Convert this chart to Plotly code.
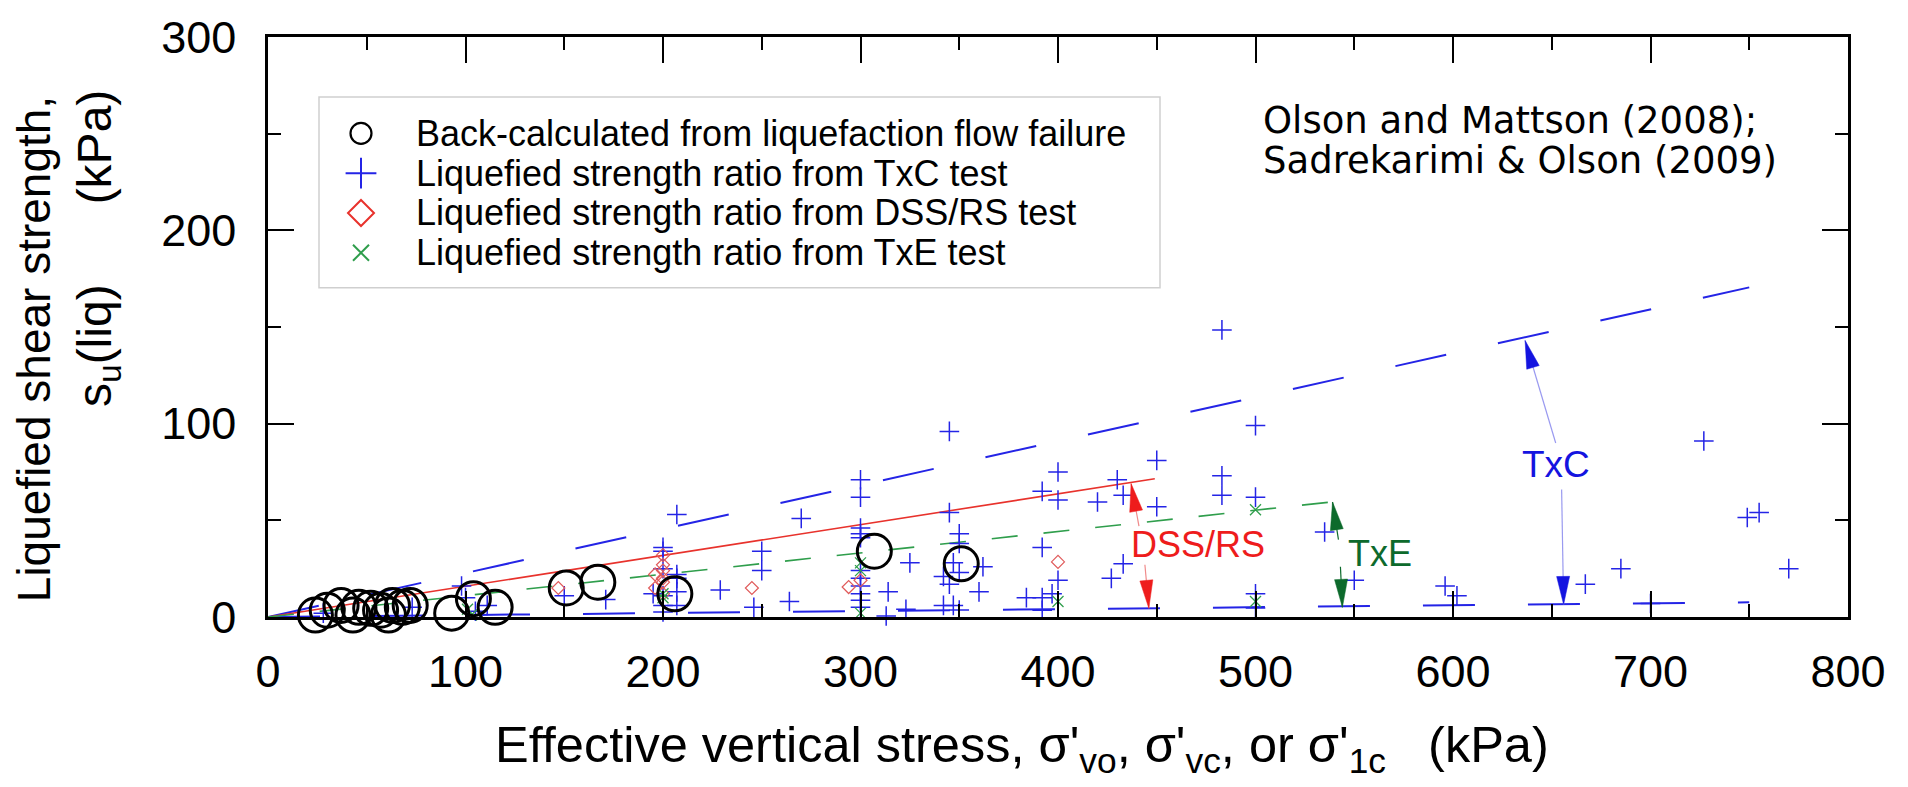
import math
import plotly.graph_objects as go

# ---------------- data ----------------
# Back-calculated from flow failures (sigma'vo, su(liq))
CIRC_X = [24, 30, 37, 43, 46, 52, 57, 61, 63, 68, 72, 93, 104, 115, 151, 167, 206, 307, 351]
CIRC_Y = [1, 3.5, 6, 1, 5, 4.5, 3.5, 1, 6, 5, 6, 2, 9.5, 5, 15, 18, 12, 34, 27.5]

# TxC tests
TXC_X = [28, 73, 98, 100, 105, 111, 150, 171, 195, 200, 200, 200, 200, 200, 200,
         207, 207, 207, 207, 207, 229, 246, 250, 250, 264, 270, 300, 300, 300, 300,
         300, 300, 300, 300, 300, 300, 300, 314, 313, 323, 325, 342, 342, 345, 345,
         345, 347, 347, 350, 350, 350, 350, 360, 362, 384, 392, 392, 392, 392, 397,
         400, 400, 400, 420, 427, 430, 433, 433, 450, 450, 483, 483, 483, 500, 500,
         500, 500, 535, 550, 596, 602, 667, 685, 700, 727, 749, 755, 770]
TXC_Y = [2, 5, 16, 10, 3, 6, 11, 9, 12, 36, 34, 25, 11, 6, 2.6,
         53, 22, 20, 13, 6, 14, 5, 34, 24, 8, 51, 71, 62, 46, 43,
         41, 24, 20, 16, 12, 8.6, 5, 13, 0.5, 4, 28, 21, 6, 96, 54,
         17, 28, 6, 43, 38, 23, 3.6, 13, 26, 10, 65, 36, 10, 3.5, 12,
         75, 60.5, 19, 59.5, 20, 71, 63, 27.5, 81, 57, 148.5, 73, 63, 99, 62,
         12, 4.6, 44, 19, 16, 11, 17, 25, 7, 91, 51.5, 54, 25]

# DSS / RS tests
DSS_X = [147, 196, 196, 200, 200, 200, 200, 200, 200, 245, 294, 300, 400]
DSS_Y = [15, 22, 15, 32, 27, 24, 20, 18, 12, 15, 15.5, 19, 28.5]

# TxE tests
TXE_X = [101, 103, 200, 200, 300, 300, 300, 400, 500, 500]
TXE_Y = [4, 1, 12, 10, 28, 24, 2, 8, 55.5, 8]

# bounding relationships (end points)
TXC_UP_X = [0, 750]
TXC_UP_Y = [0, 170.5]
TXC_LO_X = [0, 750]
TXC_LO_Y = [0, 7.6]
DSS_X_LINE = [0, 449]
DSS_Y_LINE = [0, 71.5]
TXE_X_LINE = [0, 543]
TXE_Y_LINE = [0, 60]

X_TICKS = [0, 100, 200, 300, 400, 500, 600, 700, 800]
Y_TICKS = [0, 100, 200, 300]

LEGEND_LABELS = [
    "Back-calculated from liquefaction flow failure",
    "Liquefied strength ratio from TxC test",
    "Liquefied strength ratio from DSS/RS test",
    "Liquefied strength ratio from TxE test",
]

ARIAL = "Liberation Sans, Arial, sans-serif"
BLUE = "#2424e6"
RED = "#e8322c"
GREEN = "#2f9e4c"
DGREEN = "#0d6a2c"
LBL_RED = "#ee1c1c"
LBL_BLUE = "#1414e0"

# plot geometry (px)
FIG_W, FIG_H = 1908, 787
M_L, M_R, M_T, M_B = 268, 60, 27, 170
X_RANGE = [0, 800]
Y_RANGE = [0, 300]
PW = FIG_W - M_L - M_R
PH = FIG_H - M_T - M_B
PX_X = PW / (X_RANGE[1] - X_RANGE[0])
PX_Y = PH / (Y_RANGE[1] - Y_RANGE[0])


def px_to_paper_x(px):
    return (px - M_L) / PW


def px_to_paper_y(py):
    return (FIG_H - M_B - py) / PH


fig = go.Figure()

# lines
fig.add_trace(go.Scatter(x=TXC_UP_X, y=TXC_UP_Y, mode="lines",
                         line=dict(color=BLUE, width=2, dash="52px,53px"),
                         showlegend=False, hoverinfo="skip"))
fig.add_trace(go.Scatter(x=TXC_LO_X, y=TXC_LO_Y, mode="lines",
                         line=dict(color=BLUE, width=2, dash="52px,53px"),
                         showlegend=False, hoverinfo="skip"))
fig.add_trace(go.Scatter(x=DSS_X_LINE, y=DSS_Y_LINE, mode="lines",
                         line=dict(color=RED, width=1.6),
                         showlegend=False, hoverinfo="skip"))
fig.add_trace(go.Scatter(x=TXE_X_LINE, y=TXE_Y_LINE, mode="lines",
                         line=dict(color=GREEN, width=1.6, dash="26px,26px"),
                         showlegend=False, hoverinfo="skip"))

# points
fig.add_trace(go.Scatter(x=TXC_X, y=TXC_Y, mode="markers", cliponaxis=False,
                         marker=dict(symbol="cross-thin-open", size=14, color=BLUE,
                                     line=dict(color=BLUE, width=1.5)),
                         showlegend=False))
fig.add_trace(go.Scatter(x=DSS_X, y=DSS_Y, mode="markers", cliponaxis=False,
                         marker=dict(symbol="diamond-open", size=10, color="#e05a5a",
                                     line=dict(color="#e05a5a", width=1.2)),
                         showlegend=False))
fig.add_trace(go.Scatter(x=TXE_X, y=TXE_Y, mode="markers", cliponaxis=False,
                         marker=dict(symbol="x-thin-open", size=11, color=GREEN,
                                     line=dict(color=GREEN, width=1.3)),
                         showlegend=False))
fig.add_trace(go.Scatter(x=CIRC_X, y=CIRC_Y, mode="markers", cliponaxis=False,
                         marker=dict(symbol="circle-open", size=34, color="black",
                                     line=dict(color="black", width=3)),
                         showlegend=False))

# ----- hand-built legend (box, symbols on an overlay axis, texts) -----
LEG_BOX = (319, 88, 1160, 282)          # left, top, right, bottom (px)
LEG_ROW_Y = [125, 165.5, 206, 246.5]    # row centres (px)
LEG_SYM_X = 361
LEG_TXT_X = 414
leg_syms = [("circle-open", "black", 21, 2.2), ("cross-thin-open", BLUE, 22, 2),
            ("diamond-open", RED, 20, 2), ("x-thin-open", GREEN, 16, 2)]
for (sym, col, sz, lw), ry in zip(leg_syms, LEG_ROW_Y):
    fig.add_trace(go.Scatter(x=[px_to_paper_x(LEG_SYM_X)], y=[px_to_paper_y(ry)],
                             xaxis="x2", yaxis="y2", mode="markers",
                             showlegend=False, hoverinfo="skip", cliponaxis=False,
                             marker=dict(symbol=sym, size=sz, color=col,
                                         line=dict(color=col, width=lw))))

axis_common = dict(showgrid=False, zeroline=False, showline=True, linecolor="black",
                   linewidth=2.5, mirror="ticks", ticks="inside", ticklen=26,
                   tickwidth=2, tickcolor="black",
                   tickfont=dict(family=ARIAL, size=45, color="black"))
fig.update_xaxes(range=X_RANGE, tickvals=X_TICKS, ticklabelstandoff=13,
                 minor=dict(dtick=50, ticks="inside", ticklen=13, tickwidth=2,
                            tickcolor="black"),
                 **axis_common)
fig.update_yaxes(range=Y_RANGE, tickvals=Y_TICKS, ticklabelstandoff=20,
                 minor=dict(dtick=50, ticks="inside", ticklen=13, tickwidth=2,
                            tickcolor="black"),
                 **axis_common)

ann = []
for txt, ry in zip(LEGEND_LABELS, LEG_ROW_Y):
    ann.append(dict(xref="paper", yref="paper", x=px_to_paper_x(LEG_TXT_X),
                    y=px_to_paper_y(ry), xanchor="left", yanchor="middle",
                    showarrow=False, text=txt,
                    font=dict(family=ARIAL, size=36, color="black")))
# axis titles
ann.append(dict(xref="paper", yref="paper", x=0.1424, y=-0.225, xanchor="left",
                yanchor="middle", showarrow=False,
                text="Effective vertical stress, σ'<sub>vo</sub>, σ'<sub>vc</sub>, or σ'<sub>1c</sub>   (kPa)",
                font=dict(family=ARIAL, size=50.5, color="black")))
ann.append(dict(xref="paper", yref="paper", x=-0.148, y=0.462, xanchor="center",
                yanchor="middle", showarrow=False, textangle=-90,
                text="Liquefied shear strength,",
                font=dict(family=ARIAL, size=46, color="black")))
ann.append(dict(xref="paper", yref="paper", x=-0.108, y=0.635, xanchor="center",
                yanchor="middle", showarrow=False, textangle=-90,
                text="s<sub>u</sub>(liq)      (kPa)",
                font=dict(family=ARIAL, size=48, color="black")))
# reference text (two lines)
REF_FONT = dict(family="DejaVu Sans, Verdana, sans-serif", size=37, color="black")
ann.append(dict(x=503, y=256.7, xanchor="left", yanchor="middle", showarrow=False,
                text="Olson and Mattson (2008);", font=REF_FONT))
ann.append(dict(x=503, y=236.3, xanchor="left", yanchor="middle", showarrow=False,
                text="Sadrekarimi & Olson (2009)", font=REF_FONT))
# labels
ann.append(dict(x=471, y=37.6, showarrow=False, text="DSS/RS",
                font=dict(family=ARIAL, size=36, color=LBL_RED)))
ann.append(dict(x=563, y=33, showarrow=False, text="TxE",
                font=dict(family=ARIAL, size=36, color=DGREEN)))
ann.append(dict(x=652, y=79, showarrow=False, text="TxC",
                font=dict(family=ARIAL, size=37, color=LBL_BLUE)))

# arrows: tip (x, y), tail (ax, ay), shaft colour, head colour
ARROWS = [
    (437, 69, 441, 47, "#f08a8a", LBL_RED),
    (446, 4.5, 444, 27, "#f08a8a", LBL_RED),
    (539, 59.5, 542, 40, DGREEN, DGREEN),
    (544, 5, 543, 26, DGREEN, DGREEN),
    (636.5, 143, 652, 90, "#9a9af0", LBL_BLUE),
    (656, 6.5, 655, 66, "#9a9af0", LBL_BLUE),
]
HEAD_L, HEAD_W = 28, 13
shapes = [dict(type="rect", xref="paper", yref="paper", layer="below",
               x0=px_to_paper_x(LEG_BOX[0]), x1=px_to_paper_x(LEG_BOX[2]),
               y0=px_to_paper_y(LEG_BOX[3]), y1=px_to_paper_y(LEG_BOX[1]),
               line=dict(color="#cfcfcf", width=1.5), fillcolor="white")]
for x, y, ax, ay, scol, hcol in ARROWS:
    shapes.append(dict(type="line", xref="x", yref="y", x0=ax, y0=ay, x1=x, y1=y,
                       line=dict(color=scol, width=1.2)))
    dxp = (x - ax) * PX_X
    dyp = (y - ay) * PX_Y
    n = math.hypot(dxp, dyp)
    ux, uy = dxp / n, dyp / n
    px, py = -uy, ux
    bx, by = -HEAD_L * ux, -HEAD_L * uy
    c1 = (bx + HEAD_W / 2 * px, by + HEAD_W / 2 * py)
    c2 = (bx - HEAD_W / 2 * px, by - HEAD_W / 2 * py)
    path = f"M0,0 L{c1[0]:.2f},{c1[1]:.2f} L{c2[0]:.2f},{c2[1]:.2f} Z"
    shapes.append(dict(type="path", xref="x", yref="y", xsizemode="pixel",
                       ysizemode="pixel", xanchor=x, yanchor=y, path=path,
                       fillcolor=hcol, line=dict(color=hcol, width=0.5)))

fig.update_layout(
    width=FIG_W, height=FIG_H, autosize=False,
    margin=dict(l=M_L, r=M_R, t=M_T, b=M_B),
    paper_bgcolor="white", plot_bgcolor="white",
    annotations=ann, shapes=shapes, showlegend=False,
    xaxis2=dict(overlaying="x", range=[0, 1], visible=False, anchor="y2"),
    yaxis2=dict(overlaying="y", range=[0, 1], visible=False, anchor="x2"),
)

fig.write_html("out.html")
